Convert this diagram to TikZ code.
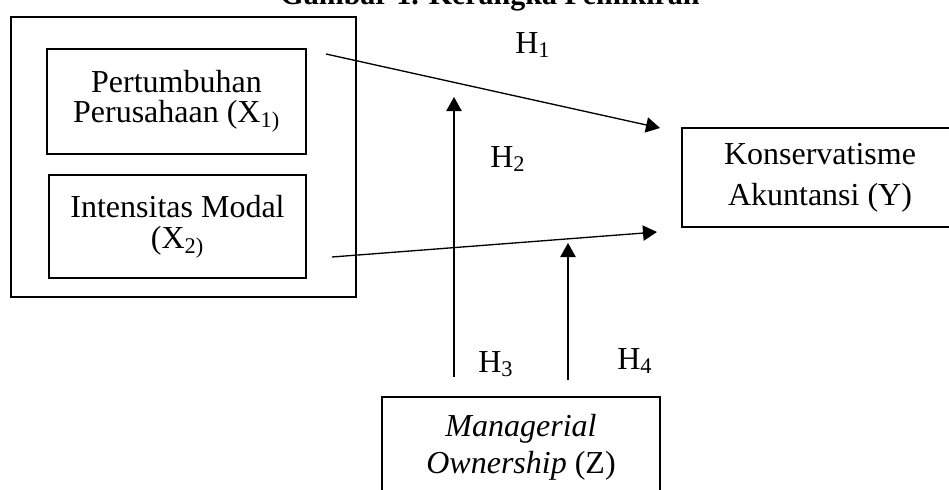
\documentclass[tikz,border=0pt]{standalone}
\usepackage{fontspec}
\setmainfont{Liberation Serif}
\usetikzlibrary{arrows.meta}
\tikzset{
	kotak/.style={draw, line width=1.5pt, align=center, inner sep=0pt},
	panah/.style={line width=1pt, -{Triangle[length=10.5pt,width=11.5pt]}},
	hip/.style={anchor=base west, inner sep=0pt, font=\fontsize{24}{28}\selectfont}
}
\begin{document}
\begin{tikzpicture}[x=0.75pt,y=-0.75pt]
							\clip (0,0) rectangle (949,489);
							\node[anchor=base, inner sep=0pt, font=\bfseries\fontsize{22.5}{27}\selectfont] (judul) at (490,4) {Gambar 1. Kerangka Pemikiran};
							\draw[line width=1.5pt] (11,17) rectangle (356,297);
							\node[kotak, minimum width=194.25pt, minimum height=78.75pt, font=\fontsize{24}{22.5}\selectfont] (x1) at (176.5,101.5) {Pertumbuhan\\Perusahaan (X\textsubscript{1)}};
							\node[kotak, minimum width=192.75pt, minimum height=77.25pt, font=\fontsize{24}{23.5}\selectfont] (x2) at (177.5,226.5) {Intensitas Modal\\(X\textsubscript{2)}};
							\node[kotak, minimum width=207pt, minimum height=74.25pt, font=\fontsize{24}{30.75}\selectfont] (y) at (820,177.5) {Konservatisme\\Akuntansi (Y)};
							\node[kotak, minimum width=208.5pt, minimum height=75.75pt, font=\fontsize{24}{27.75}\selectfont] (z) at (521,447.5) {\textit{Managerial}\\\textit{Ownership} (Z)};
							\coordinate (a1) at (326,54);
							\coordinate (b1) at (660,128);
							\coordinate (a2) at (332,257);
							\coordinate (b2) at (657,232);
							\coordinate (a3) at (454,377);
							\coordinate (b3) at (454,97);
							\coordinate (a4) at (568,380);
							\coordinate (b4) at (568,243);
							\draw[panah] (a1)--(b1);
							\draw[panah] (a2)--(b2);
							\draw[panah] (a3)--(b3);
							\draw[panah] (a4)--(b4);
							\node[hip] (h1) at (515,53) {H\textsubscript{1}};
							\node[hip] (h2) at (490,167) {H\textsubscript{2}};
							\node[hip] (h3) at (478,372) {H\textsubscript{3}};
							\node[hip] (h4) at (617,369) {H\textsubscript{4}};
						\end{tikzpicture}
\end{document}
